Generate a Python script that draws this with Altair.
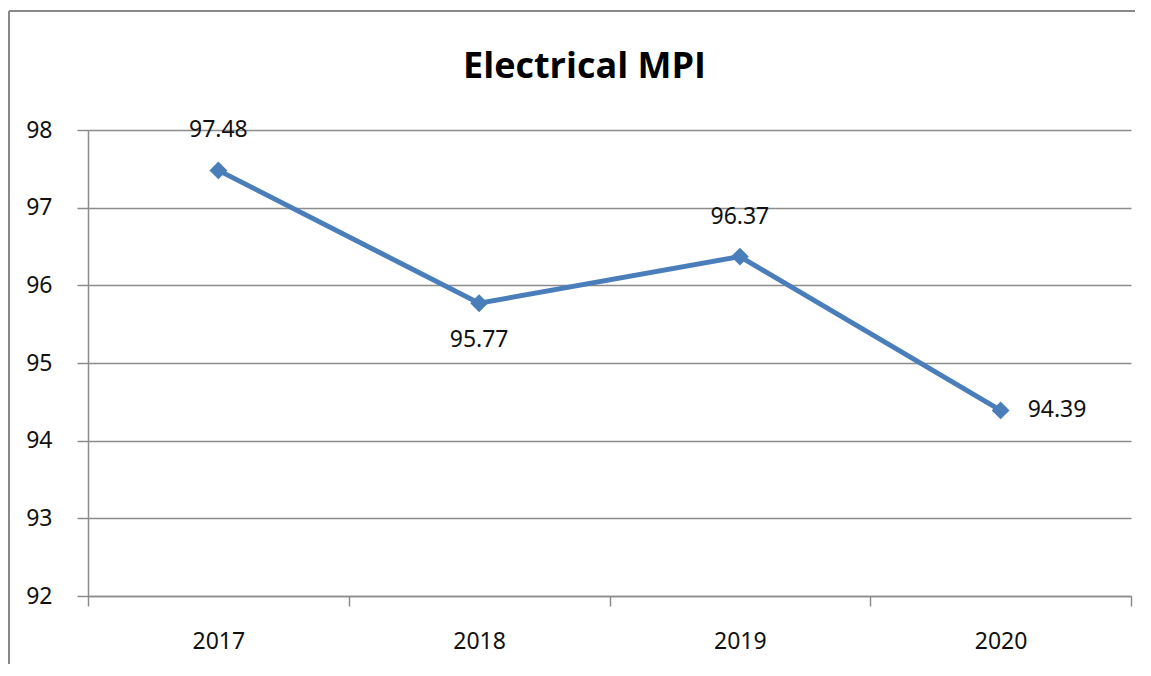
import altair as alt
import pandas as pd

years = ["2017", "2018", "2019", "2020"]
mpi = [97.48, 95.77, 96.37, 94.39]
label_place = ["above", "below", "above", "right"]

df = pd.DataFrame({"year": years, "mpi": mpi, "place": label_place})

FONT = "Liberation Sans Narrow, Noto Sans"
GRID = "#8c8c8c"
BLUE = "#4a7ebb"

x = alt.X("year:N", title=None, sort=years,
          scale=alt.Scale(paddingInner=0, paddingOuter=0),
          axis=alt.Axis(labelAngle=0, tickBand="extent", ticks=True, tickSize=10,
                        tickColor=GRID, tickWidth=1.5, domainColor=GRID, domainWidth=1.5,
                        labelPadding=24, labelFontSize=23, labelFont=FONT,
                        labelColor="#111", grid=False))
y = alt.Y("mpi:Q", title=None,
          scale=alt.Scale(domain=[92, 98], nice=False, zero=False),
          axis=alt.Axis(values=[92, 93, 94, 95, 96, 97, 98], tickSize=11, tickColor=GRID,
                        tickWidth=1.5, domainColor=GRID, domainWidth=1.5,
                        gridColor=GRID, gridWidth=1.5, labelPadding=25,
                        labelFontSize=23, labelFont=FONT, labelColor="#111"))

base = alt.Chart(df)

line = base.mark_line(color=BLUE, strokeWidth=5).encode(x=x, y=y)
pts = base.mark_point(shape="diamond", filled=True, size=320, color=BLUE, opacity=1).encode(x=x, y=y)

txt_common = dict(fontSize=23, font=FONT, color="#111")
above = base.transform_filter(alt.datum.place == "above").mark_text(
    dy=-40, **txt_common).encode(x=x, y=y, text=alt.Text("mpi:Q", format=".2f"))
below = base.transform_filter(alt.datum.place == "below").mark_text(
    dy=37, **txt_common).encode(x=x, y=y, text=alt.Text("mpi:Q", format=".2f"))
right = base.transform_filter(alt.datum.place == "right").mark_text(
    dx=27, align="left", **txt_common).encode(x=x, y=y, text=alt.Text("mpi:Q", format=".2f"))

frame_v = alt.Chart(df).mark_rule(color="#888", strokeWidth=1.5).encode(
    x=alt.value(-79), y=alt.value(-119), y2=alt.value(700))
frame_h = alt.Chart(df).mark_rule(color="#888", strokeWidth=1.5).encode(
    x=alt.value(-79), x2=alt.value(1200), y=alt.value(-119))

chart = alt.layer(frame_v, frame_h, line, pts, above, below, right).properties(
    width=1043, height=466,
    autosize=alt.AutoSizeParams(type="none"),
    padding={"left": 80, "top": 122, "right": 4, "bottom": 68},
    title=alt.TitleParams("Electrical MPI", fontSize=36, font="Open Sans", fontWeight="bold",
                          color="#000", anchor="middle", dx=-25, offset=-104, baseline="alphabetic"),
).configure_view(stroke=None)

chart.save("out.html", embed_options={"renderer": "svg", "actions": False})
